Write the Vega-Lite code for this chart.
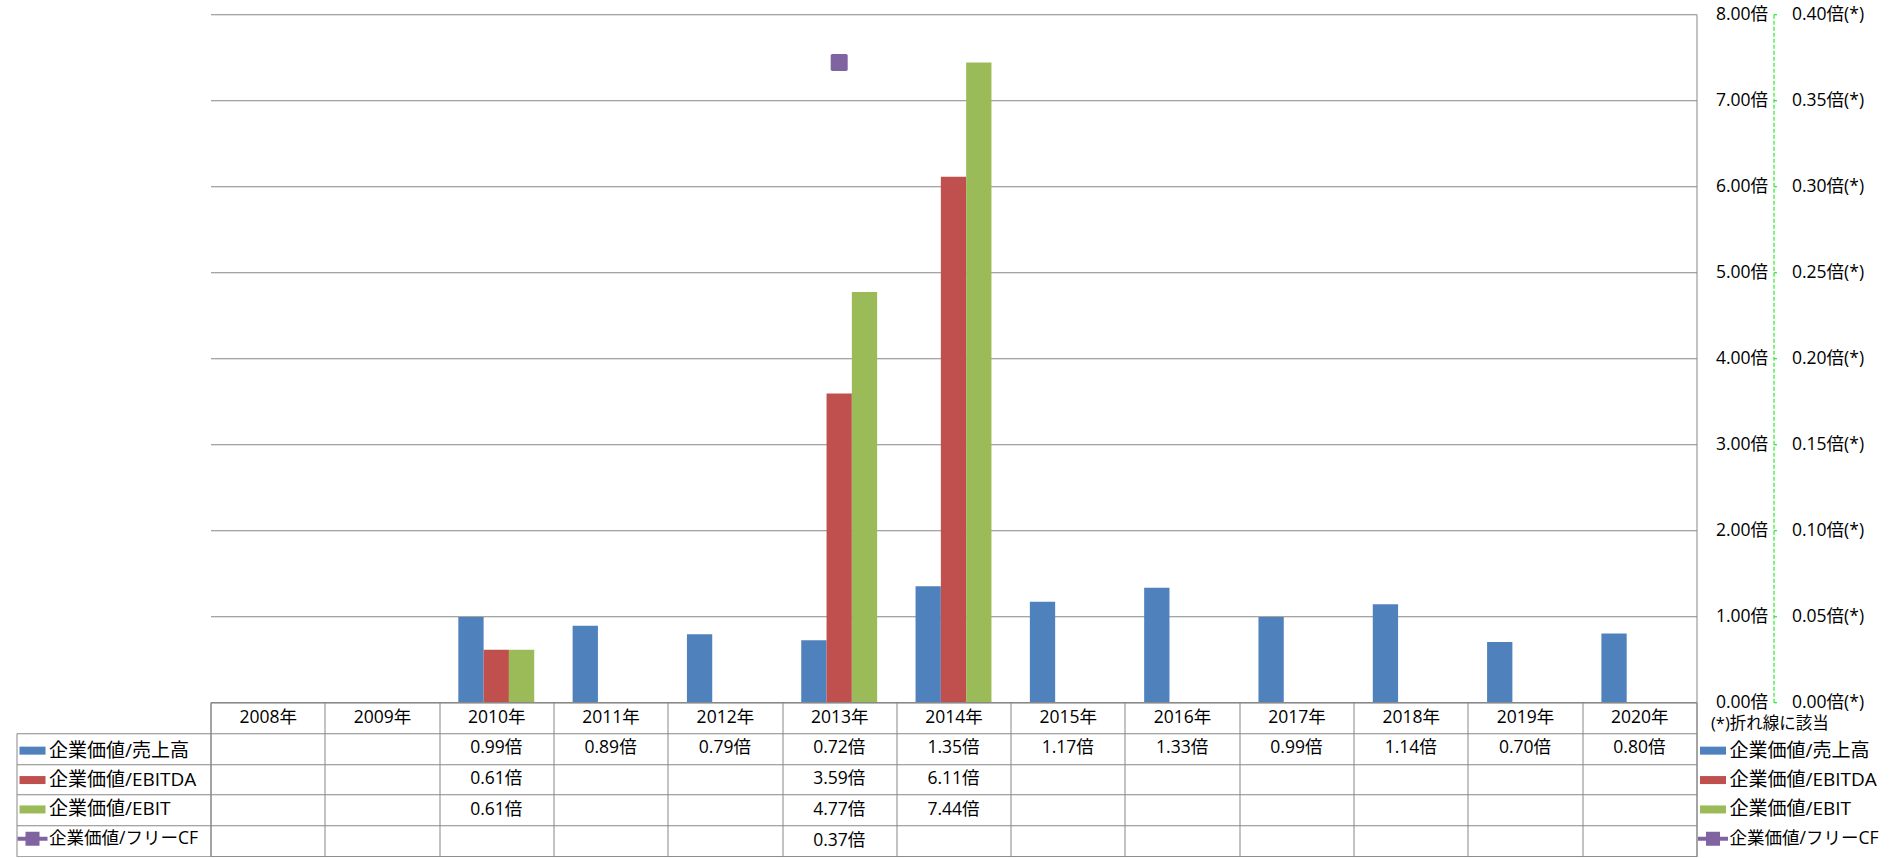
{
  "$schema": "https://vega.github.io/schema/vega-lite/v6.json",
  "background": "white",
  "padding": {"left": 15.5, "top": 5.25, "right": 0, "bottom": 0},
  "autosize": {"type": "pad"},
  "bounds": "flush",
  "spacing": 0,
  "config": {
    "font": "Open Sans, Noto Sans CJK JP",
    "view": {"stroke": null}
  },
  "datasets": {
    "vals": [
      {"year": "2010年", "series": "企業価値/売上高", "value": 0.99},
      {"year": "2011年", "series": "企業価値/売上高", "value": 0.89},
      {"year": "2012年", "series": "企業価値/売上高", "value": 0.79},
      {"year": "2013年", "series": "企業価値/売上高", "value": 0.72},
      {"year": "2014年", "series": "企業価値/売上高", "value": 1.35},
      {"year": "2015年", "series": "企業価値/売上高", "value": 1.17},
      {"year": "2016年", "series": "企業価値/売上高", "value": 1.33},
      {"year": "2017年", "series": "企業価値/売上高", "value": 0.99},
      {"year": "2018年", "series": "企業価値/売上高", "value": 1.14},
      {"year": "2019年", "series": "企業価値/売上高", "value": 0.70},
      {"year": "2020年", "series": "企業価値/売上高", "value": 0.80},
      {"year": "2010年", "series": "企業価値/EBITDA", "value": 0.61},
      {"year": "2013年", "series": "企業価値/EBITDA", "value": 3.59},
      {"year": "2014年", "series": "企業価値/EBITDA", "value": 6.11},
      {"year": "2010年", "series": "企業価値/EBIT", "value": 0.61},
      {"year": "2013年", "series": "企業価値/EBIT", "value": 4.77},
      {"year": "2014年", "series": "企業価値/EBIT", "value": 7.44},
      {"year": "2013年", "series": "企業価値/フリーCF", "value": 0.372}
    ]
  },
  "resolve": {
    "scale": {"color": "independent"},
    "legend": {"color": "independent"}
  },
  "vconcat": [
    {
      "width": 1486,
      "height": 688,
      "data": {"name": "vals"},
      "resolve": {"scale": {"y": "independent"}},
      "layer": [
        {
          "transform": [{"filter": "datum.series !== '企業価値/フリーCF'"}],
          "mark": {"type": "bar"},
          "encoding": {
            "x": {"field": "year", "type": "nominal", "axis": null,
              "scale": {"domain": ["2008年","2009年","2010年","2011年","2012年","2013年","2014年","2015年","2016年","2017年","2018年","2019年","2020年"], "paddingInner": 0, "paddingOuter": 0}},
            "xOffset": {"field": "series", "type": "nominal",
              "scale": {"domain": ["企業価値/売上高","企業価値/EBITDA","企業価値/EBIT"], "paddingInner": 0, "paddingOuter": 0.759}},
            "y": {"field": "value", "type": "quantitative",
              "scale": {"domain": [0, 8], "nice": false, "zero": true},
              "axis": {"orient": "right", "title": null, "values": [0,1,2,3,4,5,6,7,8],
                "labelExpr": "format(datum.value, '.2f') + '倍'",
                "grid": true, "gridColor": "#878787", "gridWidth": 1,
                "domain": true, "domainColor": "#878787", "domainWidth": 1,
                "ticks": false, "labelAlign": "right", "labelBaseline": "middle", "labelPadding": 71,
                "labelFontSize": 17.5, "labelColor": "#000000", "labelFlush": false, "labelOverlap": false}},
            "color": {"field": "series", "type": "nominal",
              "scale": {"domain": ["企業価値/売上高","企業価値/EBITDA","企業価値/EBIT","企業価値/フリーCF"], "range": ["#4F81BD","#C0504D","#9BBB59","#8064A2"]},
              "legend": {"orient": "none", "legendX": 1487.5, "legendY": 721.4, "title": null, "padding": 0,
                "symbolSize": 900, "symbolStrokeWidth": 0, "symbolOpacity": 1,
                "labelFontSize": 19, "labelColor": "#000000", "labelOffset": 1.5, "rowPadding": 4.4, "labelLimit": 400,
                "encode": {
                  "symbols": {"update": {"shape": {"signal": "datum.value === '企業価値/フリーCF' ? 'M-1,-0.133H-0.467V-0.467H0.467V-0.133H1V0.133H0.467V0.467H-0.467V0.133H-1Z' : 'M-0.867,-0.267H0.867V0.267H-0.867Z'"}}},
                  "labels": {"update": {"fontSize": {"signal": "datum.value === '企業価値/フリーCF' ? 17.5 : 19"}}}
                }}}
          }
        },
        {
          "transform": [{"filter": "datum.series === '企業価値/フリーCF'"}],
          "mark": {"type": "point", "filled": true, "opacity": 1, "size": 289,
            "shape": "M-0.8,-1H0.8Q1,-1,1,-0.8V0.8Q1,1,0.8,1H-0.8Q-1,1,-1,0.8V-0.8Q-1,-1,-0.8,-1Z"},
          "encoding": {
            "x": {"field": "year", "type": "nominal", "axis": null,
              "scale": {"domain": ["2008年","2009年","2010年","2011年","2012年","2013年","2014年","2015年","2016年","2017年","2018年","2019年","2020年"], "paddingInner": 0, "paddingOuter": 0}},
            "y": {"field": "value", "type": "quantitative",
              "scale": {"domain": [0, 0.4], "nice": false, "zero": true},
              "axis": {"orient": "right", "offset": 77, "title": "(*)折れ線に該当",
                "titleAngle": 0, "titleX": -63, "titleY": 709, "titleAlign": "left", "titleBaseline": "middle",
                "titleFontSize": 16.5, "titleFontWeight": "normal", "titleColor": "#000000",
                "values": [0, 0.05, 0.1, 0.15, 0.2, 0.25, 0.3, 0.35, 0.4],
                "labelExpr": "format(datum.value, '.2f') + '倍(*)'",
                "grid": false, "domain": true, "domainColor": "#00e600", "domainDash": [4, 2], "domainWidth": 1,
                "ticks": true, "tickColor": "#00e600", "tickSize": 3, "tickWidth": 1,
                "labelPadding": 15, "labelAlign": "left", "labelBaseline": "middle",
                "labelFontSize": 17.5, "labelColor": "#000000", "labelFlush": false, "labelOverlap": false}},
            "color": {"field": "series", "type": "nominal",
              "scale": {"domain": ["企業価値/売上高","企業価値/EBITDA","企業価値/EBIT","企業価値/フリーCF"], "range": ["#4F81BD","#C0504D","#9BBB59","#8064A2"]}}
          }
        }
      ]
    },
    {
      "width": 1486,
      "height": 154,
      "view": {"stroke": "#878787", "strokeWidth": 1},
      "data": {"name": "vals"},
      "resolve": {"axis": {"y": "independent"}},
      "encoding": {
        "x": {"field": "year", "type": "nominal",
          "scale": {"domain": ["2008年","2009年","2010年","2011年","2012年","2013年","2014年","2015年","2016年","2017年","2018年","2019年","2020年"], "paddingInner": 0, "paddingOuter": 0},
          "axis": {"orient": "top", "title": null, "domain": false, "ticks": false,
            "grid": true, "gridColor": "#878787", "gridWidth": 1, "tickBand": "extent",
            "labelAngle": 0, "labelPadding": -15.4, "labelBaseline": "middle", "labelAlign": "center",
            "labelFontSize": 17.5, "labelColor": "#000000"}}
      },
      "layer": [
        {
          "mark": {"type": "text", "text": {"expr": "format(datum.value, '.2f') + '倍'"}, "fontSize": 17.5, "color": "#000000", "baseline": "middle", "align": "center"},
          "encoding": {
            "y": {"field": "series", "type": "nominal",
              "scale": {"domain": ["", "企業価値/売上高","企業価値/EBITDA","企業価値/EBIT","企業価値/フリーCF"], "paddingInner": 0, "paddingOuter": 0},
              "axis": {"orient": "left", "title": null, "labels": false, "domain": false, "ticks": false,
                "tickBand": "extent", "grid": true, "gridColor": "#878787", "gridWidth": 1}}
          }
        },
        {
          "mark": {"type": "point", "filled": true, "opacity": 0},
          "encoding": {
            "y": {"field": "series", "type": "nominal",
              "scale": {"domain": ["", "企業価値/売上高","企業価値/EBITDA","企業価値/EBIT","企業価値/フリーCF"], "paddingInner": 0, "paddingOuter": 0},
              "axis": {"orient": "left", "title": null, "labels": false, "domain": false, "grid": false,
                "ticks": true, "tickSize": 194, "tickWidth": 1, "tickColor": "#878787", "tickOffset": 15.4}},
            "color": {"field": "series", "type": "nominal",
              "scale": {"domain": ["企業価値/売上高","企業価値/EBITDA","企業価値/EBIT","企業価値/フリーCF"], "range": ["#4F81BD","#C0504D","#9BBB59","#8064A2"]},
              "legend": {"orient": "none", "legendX": -193, "legendY": 33.4, "title": null, "padding": 0,
                "symbolSize": 900, "symbolStrokeWidth": 0, "symbolOpacity": 1,
                "labelFontSize": 19, "labelColor": "#000000", "labelOffset": 1.5, "rowPadding": 4.4, "labelLimit": 400,
                "encode": {
                  "symbols": {"update": {"shape": {"signal": "datum.value === '企業価値/フリーCF' ? 'M-1,-0.133H-0.467V-0.467H0.467V-0.133H1V0.133H0.467V0.467H-0.467V0.133H-1Z' : 'M-0.867,-0.267H0.867V0.267H-0.867Z'"}}},
                  "labels": {"update": {"fontSize": {"signal": "datum.value === '企業価値/フリーCF' ? 17.5 : 19"}}}
                }}}
          }
        },
        {
          "mark": {"type": "point", "opacity": 0},
          "encoding": {
            "y": {"field": "series", "type": "nominal",
              "scale": {"domain": ["", "企業価値/売上高","企業価値/EBITDA","企業価値/EBIT","企業価値/フリーCF"], "paddingInner": 0, "paddingOuter": 0},
              "axis": {"orient": "left", "offset": 194, "title": null, "labels": false, "ticks": false, "grid": false,
                "domain": true, "domainColor": "#878787", "domainWidth": 1, "domainDash": [0, 30.8, 200]}}
          }
        }
      ]
    }
  ]
}
